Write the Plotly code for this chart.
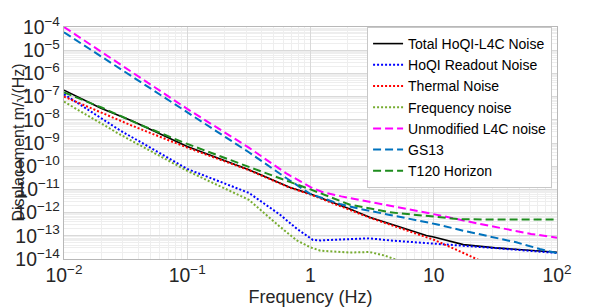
import plotly.graph_objects as go

# ---- data (log10 values) ----
total_logf = [-2, -1.7, -1.45, -1.0, -0.5, -0.17, 0.0, 0.32, 0.48, 0.645, 0.94, 1.0, 1.24, 1.5, 1.78, 2.0]
total_logy = [-6.72, -7.5, -8.04, -9.15, -10.15, -10.91, -11.2, -11.84, -12.2, -12.49, -12.99, -13.05, -13.38, -13.52, -13.63, -13.71]

readout_logf = [-2, -1.55, -1.0, -0.5, -0.25, -0.11, 0.02, 0.08, 0.2, 0.32, 0.48, 0.645, 1.0, 1.24, 1.5, 1.78, 2.0]
readout_logy = [-6.9, -8.44, -10.12, -11.15, -12.08, -12.7, -13.18, -13.2, -13.17, -13.14, -13.11, -13.2, -13.32, -13.43, -13.53, -13.64, -13.74]

thermal_logf = [-2, -1.45, -1.0, -0.5, -0.17, 0.0, 0.48, 0.645, 0.94, 1.0, 1.17, 1.375, 1.45]
thermal_logy = [-7.0, -8.25, -9.2, -10.17, -10.92, -11.22, -12.22, -12.52, -13.05, -13.17, -13.57, -14.04, -14.25]

freqnoise_logf = [-2, -1.55, -1.0, -0.5, -0.25, -0.11, 0.0, 0.08, 0.32, 0.48, 0.6, 0.7, 0.75]
freqnoise_logy = [-7.22, -8.62, -10.2, -11.45, -12.6, -13.2, -13.5, -13.64, -13.72, -13.7, -13.85, -14.04, -14.2]

l4c_logf = [-2, -1.5, -1.0, -0.5, -0.2, 0.0, 0.1, 0.25, 0.5, 0.75, 1.06, 1.375, 1.59, 1.79, 2.0]
l4c_logy = [-4.0, -5.77, -7.53, -9.2, -10.3, -10.9, -11.12, -11.3, -11.55, -11.8, -12.13, -12.49, -12.71, -12.92, -13.08]

gs13_logf = [-2, -1.0, -0.5, -0.2, 0.0, 0.24, 0.4, 0.645, 1.02, 1.24, 1.456, 1.67, 1.86, 2.0]
gs13_logy = [-4.23, -7.68, -9.4, -10.5, -11.2, -11.63, -11.84, -12.1, -12.5, -12.78, -13.04, -13.28, -13.57, -13.75]

t120_logf = [-2, -1.69, -1.38, -1.0, -0.5, 0.0, 0.32, 0.645, 1.02, 1.2, 1.5, 2.0]
t120_logy = [-6.82, -7.48, -8.22, -9.04, -10.03, -11.0, -11.66, -11.99, -12.18, -12.28, -12.3, -12.3]

names = ["Total HoQI-L4C Noise", "HoQI Readout Noise", "Thermal Noise", "Frequency noise",
         "Unmodified L4C noise", "GS13", "T120 Horizon"]

x_title = "Frequency (Hz)"
y_title = "Displacement m/√(Hz)"


def lin(v):
    return [10 ** a for a in v]


series = [
    (total_logf, total_logy, "#000000", "solid", 1.6),
    (readout_logf, readout_logy, "#0000FF", "2px,2px", 2),
    (thermal_logf, thermal_logy, "#FF0000", "2px,2px", 2),
    (freqnoise_logf, freqnoise_logy, "#77AC30", "2px,2px", 2),
    (l4c_logf, l4c_logy, "#FF00FF", "8px,4px", 2),
    (gs13_logf, gs13_logy, "#0072BD", "8px,4px", 2),
    (t120_logf, t120_logy, "#1E8C1E", "8px,4px", 2),
]

fig = go.Figure()
for name, (lf, ly, col, dash, w) in zip(names, series):
    fig.add_trace(go.Scatter(x=lin(lf), y=lin(ly), mode="lines", name=name,
                             line=dict(color=col, dash=dash, width=w)))

font_col = "#262626"
axis_common = dict(
    type="log", dtick=1, exponentformat="power", showexponent="all",
    showgrid=True, gridcolor="#d9d9d9", gridwidth=1,
    minor=dict(showgrid=True, gridcolor="#eeeeee", gridwidth=1),
    showline=True, linecolor="#b8b8b8", linewidth=1, mirror=True,
    ticks="", tickfont=dict(size=15.5, color=font_col, family="Liberation Sans, Arial"),
    zeroline=False, automargin=False,
)

L, R, T, B, W, H = 56, 41, 19, 49, 590, 300
fig.update_layout(
    width=W, height=H,
    margin=dict(l=L, r=R, t=T, b=B),
    paper_bgcolor="white", plot_bgcolor="white",
    font=dict(family="Liberation Sans, Arial", color=font_col),
    xaxis=dict(range=[-2, 2], title=dict(text=x_title, font=dict(size=18), standoff=4), **axis_common),
    yaxis=dict(range=[-14, -4], **axis_common),
    legend=dict(x=0.99, y=1.0, xanchor="right", yanchor="top",
                bgcolor="white", bordercolor="#c8c8c8", borderwidth=1,
                font=dict(size=14, color="#000000"), tracegroupgap=0, itemwidth=30),
    showlegend=True,
)

# y-axis title placed at the very left edge of the figure
fig.add_annotation(text=y_title, textangle=-90, xref="paper", yref="paper",
                   x=-L / (W - L - R), y=0.5, xanchor="left", yanchor="middle",
                   showarrow=False, borderpad=0, font=dict(size=16, color=font_col))

fig.write_html("out.html")
